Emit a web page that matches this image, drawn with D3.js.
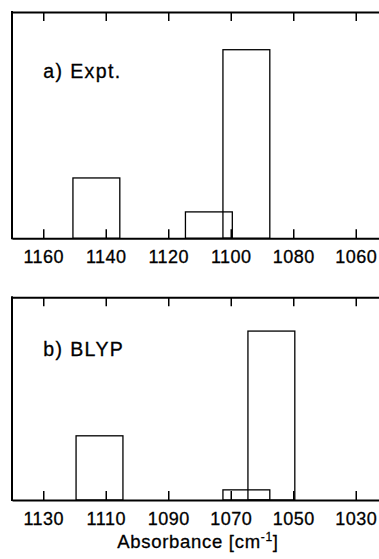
<!DOCTYPE html>
<html>
<head>
<meta charset="utf-8">
<script src="https://cdn.jsdelivr.net/npm/d3@7"></script>
<style>
  body { margin: 0; background: #fff; }
  text { font-family: "Liberation Sans", Arial, sans-serif; fill: #000; stroke: #000; stroke-width: 0.3px; }
</style>
</head>
<body>
<div id="wrapper"></div>
<script>
// Dados (frequencia em cm-1, intensidade relativa)
const exptFreq = [1143, 1107, 1095];
const exptInt = [0.32, 0.14, 1.0];
const blypFreq = [1112, 1065, 1057];
const blypInt = [0.38, 0.06, 1.0];
const exptTicks = [1160, 1140, 1120, 1100, 1080, 1060];
const blypTicks = [1130, 1110, 1090, 1070, 1050, 1030];
const exptDomain = [1170, 1050];
const blypDomain = [1140, 1020];
const panelLabels = ["a) Expt.", "b) BLYP"];
const barWidth = 15; // largura de cada barra em cm-1
const axisTitle = "Absorbance [cm";

function draw() {
  const dimensions = {
    width: 379,
    height: 559,
    left: 12,
    plotWidth: 375
  };

  const wrapper = d3.select("#wrapper")
    .append("svg")
      .attr("width", dimensions.width)
      .attr("height", dimensions.height);

  const panels = [
    { freq: exptFreq, inten: exptInt, ticks: exptTicks, domain: exptDomain, label: panelLabels[0], top: 12, bottom: 238.3, labelY: 78 },
    { freq: blypFreq, inten: blypInt, ticks: blypTicks, domain: blypDomain, label: panelLabels[1], top: 297.3, bottom: 500, labelY: 356 }
  ];

  panels.forEach(p => {
    const x = d3.scaleLinear().domain(p.domain).range([dimensions.left, dimensions.left + dimensions.plotWidth]);
    const y = d3.scaleLinear().domain([0, 1.2]).range([p.bottom, p.top]);

    const g = wrapper.append("g");

    // Barras (retangulos sem preenchimento)
    g.selectAll("rect")
      .data(p.freq.map((f, i) => ({ f: f, v: p.inten[i] })))
      .join("rect")
        .attr("x", d => x(d.f + barWidth / 2))
        .attr("width", d => x(d.f - barWidth / 2) - x(d.f + barWidth / 2))
        .attr("y", d => y(d.v))
        .attr("height", d => y(0) - y(d.v))
        .attr("fill", "none")
        .attr("stroke", "#000")
        .attr("stroke-width", 1.3);

    // Eixo inferior com rotulos
    const bottomAxis = d3.axisBottom(x)
      .tickValues(p.ticks)
      .tickFormat(d3.format("d"))
      .tickSizeInner(-9)
      .tickSizeOuter(0)
      .tickPadding(12);
    const bx = g.append("g")
      .attr("transform", "translate(0," + y(0) + ")")
      .call(bottomAxis);
    bx.attr("font-size", 18).attr("font-family", "Liberation Sans, Arial, sans-serif");
    bx.select(".domain").attr("stroke-width", 2);
    bx.selectAll(".tick line").attr("stroke-width", 1.5);
    bx.selectAll(".tick text")
      .attr("letter-spacing", 0.5);

    // Eixo superior, apenas marcas
    const topAxis = d3.axisTop(x)
      .tickValues(p.ticks)
      .tickFormat("")
      .tickSizeInner(-9)
      .tickSizeOuter(0);
    const tx = g.append("g")
      .attr("transform", "translate(0," + y(1.2) + ")")
      .call(topAxis);
    tx.select(".domain").attr("stroke-width", 2);
    tx.selectAll(".tick line").attr("stroke-width", 1.5);

    // Borda esquerda
    g.append("line")
      .attr("x1", x.range()[0])
      .attr("x2", x.range()[0])
      .attr("y1", y(1.2) - 1)
      .attr("y2", y(0) + 1)
      .attr("stroke", "#000")
      .attr("stroke-width", 2);

    // Rotulo do painel
    g.append("text")
      .attr("x", x(p.ticks[0]))
      .attr("y", p.labelY)
      .attr("font-size", 19.5)
      .attr("letter-spacing", 1.4)
      .text(p.label);
  });

  // Titulo do eixo x
  const title = wrapper.append("text")
    .attr("x", 198)
    .attr("y", 548)
    .attr("text-anchor", "middle")
    .attr("font-size", 18.5)
    .attr("letter-spacing", 0.7);
  title.append("tspan").text(axisTitle);
  title.append("tspan").attr("dy", -7).attr("font-size", 12).text("-1");
  title.append("tspan").attr("dy", 7).text("]");
}
draw();
</script>
</body>
</html>
